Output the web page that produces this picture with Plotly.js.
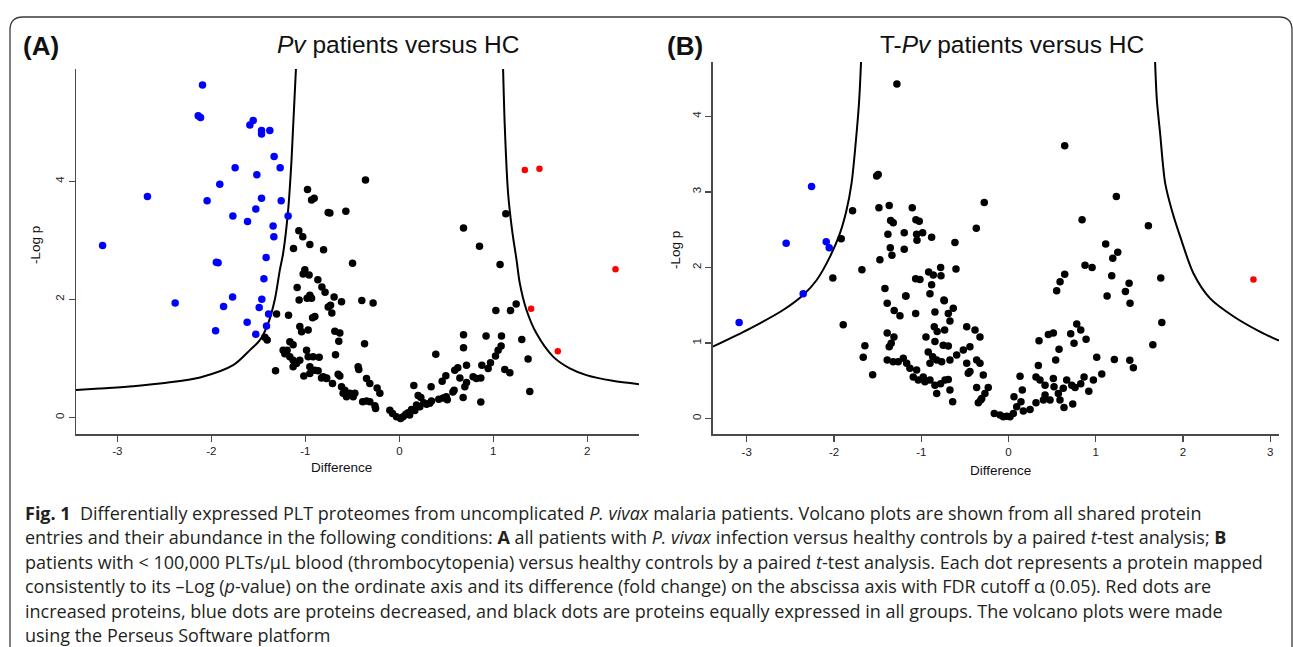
<!DOCTYPE html>
<html><head><meta charset="utf-8">
<script src="https://cdn.plot.ly/plotly-3.0.1.min.js"></script>
<style>html,body{margin:0;padding:0;background:#fff}#chart{width:1293px;height:647px}</style>
</head><body><div id="chart"></div>
<script>
// ---------- Panel A data (Pv patients versus HC) ----------
const aBlackX = [-0.977,-0.934,-0.906,-0.757,-1.069,-1.027,-0.952,-1.126,-0.806,
 -0.36,-0.739,-0.569,1.133,0.683,0.853,
 -0.498,1.072,-0.694,-0.732,-0.718,-0.615,-0.399,-0.279,1.243,1.183,1.027,-0.686,-0.633,-0.644,-0.37,-0.679,1.303,0.683,0.923,1.087,0.683,1.083,1.051,1.023,1.37,0.388,0.97,0.878,0.715,0.622,0.59,0.945,1.122,1.176,1.388,0.867,0.495,0.456,0.644,0.715,0.785,0.82,0.867,0.697,0.583,0.679,0.338,0.154,0.2,0.229,0.26,0.29,0.324,0.342,0.42,0.466,0.50,0.51,0.57,0.183,0.13,0.094,0.069,0.11,0.165,0.218,-0.101,-0.072,-0.03,0.013,0.04,-0.207,-0.236,-0.26,-0.253,-0.314,-0.349,-0.314,-0.349,-0.39,-0.438,-0.431,-0.81,-0.774,-0.651,-0.633,-0.711,-0.615,-0.58,-0.598,-0.562,-0.527,-0.491,-0.473,
 -1.306,-1.179,-1.431,-1.406,-1.317,-1.087,-1.023,-0.96,-1.066,-0.981,-0.952,-0.934,-0.923,-0.899,-1.059,-1.04,-0.97,-0.757,-1.165,-1.13,-1.194,-1.236,-1.218,-1.165,-1.13,-1.094,-1.13,-1.059,-0.987,-0.97,-0.917,-0.853,-0.952,-0.899,-0.864,-0.952,-1.016,-0.828,-0.774,
 -0.867,-0.824,-0.79,-1.005];
const aBlackY = [3.86,3.68,3.71,3.47,3.16,3.06,2.93,2.86,2.84,
 4.02,3.46,3.49,3.45,3.21,2.90,
 2.61,2.59,2.04,1.90,1.77,1.96,1.98,1.94,1.92,1.81,1.81,1.46,1.43,1.29,1.25,1.06,1.32,1.40,1.38,1.38,1.18,1.21,1.14,1.04,0.99,1.07,0.925,0.886,0.886,0.84,0.80,0.83,0.81,0.756,0.44,0.26,0.705,0.615,0.67,0.59,0.69,0.66,0.67,0.52,0.46,0.34,0.52,0.54,0.37,0.34,0.25,0.225,0.24,0.28,0.31,0.33,0.35,0.30,0.43,0.21,0.135,0.08,0.056,0.04,0.12,0.18,0.124,0.068,0.01,-0.017,0.01,0.41,0.50,0.197,0.15,0.576,0.66,0.265,0.28,0.265,0.858,0.81,0.69,0.67,0.73,0.70,0.576,0.52,0.46,0.41,0.35,0.41,0.35,0.41,
 1.75,1.73,1.36,1.31,0.79,2.20,2.43,2.41,1.99,2.02,2.07,2.02,1.69,1.71,1.54,1.45,1.48,1.87,1.28,1.23,1.14,1.14,1.08,1.03,0.97,0.915,0.858,0.97,1.14,1.03,1.03,1.02,0.858,0.80,0.79,0.746,0.70,0.67,0.66,
 2.33,2.21,2.12,2.50];
const aBlueX = [-2.094,-2.14,-2.115,-1.59,-1.555,-1.466,-1.466,-1.378,-1.332,-1.747,-1.268,-1.516,-1.91,-2.68,-2.045,-1.466,-1.257,-1.527,-1.771,-1.183,-1.615,-1.343,-1.335,-3.157,-1.928,-1.947,-1.417,-1.441,-1.774,-2.385,-1.463,-1.87,-1.491,-1.391,-1.619,-1.413,-1.955,-1.527];
const aBlueY = [5.63,5.11,5.08,4.95,5.03,4.86,4.80,4.86,4.42,4.23,4.23,4.11,3.95,3.74,3.67,3.71,3.67,3.53,3.41,3.41,3.32,3.24,3.06,2.91,2.62,2.63,2.71,2.35,2.04,1.94,2.00,1.88,1.86,1.75,1.61,1.55,1.47,1.41];
const aRedX = [1.335,1.491,2.30,1.402,1.686];
const aRedY = [4.19,4.21,2.51,1.84,1.12];
const aLeftCurveX = [-3.44,-3.19,-2.83,-2.477,-2.12,-1.768,-1.59,-1.484,-1.396,-1.324,-1.271,-1.236,-1.183,-1.147,-1.10];
const aLeftCurveY = [0.463,0.49,0.53,0.587,0.678,0.886,1.14,1.31,1.59,2.0,2.5,2.78,3.51,4.36,5.9];
const aRightCurveX = [1.104,1.122,1.157,1.204,1.247,1.282,1.353,1.46,1.636,1.814,1.99,2.27,2.55];
const aRightCurveY = [5.9,4.93,3.80,3.12,2.67,2.27,1.82,1.42,1.03,0.83,0.717,0.62,0.564];
const aXTicks = [-3,-2,-1,0,1,2];
const aYTicks = [0,2,4];

// ---------- Panel B data (T-Pv patients versus HC) ----------
const bBlackX = [-1.279,
 -1.511,-1.493,-1.787,-1.917,-2.013,-1.68,-1.485,-1.367,-1.103,-1.061,-1.023,-1.351,-1.321,-1.382,-1.195,-1.053,-0.984,-1.049,-0.881,-0.614,-0.369,-1.355,-1.336,-1.195,-1.474,-0.915,-0.862,-0.778,-0.774,-0.602,-1.064,-1.015,-0.881,-1.416,-1.175,-0.90,-0.74,
 0.644,-0.278,1.236,0.843,1.603,1.114,1.252,1.195,0.877,0.958,0.644,0.591,0.552,1.183,1.382,1.34,1.745,1.13,
 1.393,1.757,1.654,1.011,1.213,1.39,1.431,0.782,0.828,0.889,0.713,0.751,0.457,0.514,0.579,0.541,0.35,0.342,0.315,0.361,0.419,0.514,0.522,0.571,0.628,0.667,0.725,0.763,0.828,0.866,0.973,1.069,0.92,0.736,0.636,0.59,0.476,0.419,0.40,0.315,0.247,0.17,0.132,0.158,0.143,0.094,0.063,0.055,0.017,-0.021,-0.06,-0.097,-0.163,-0.479,-0.384,-0.327,-0.518,-0.442,-0.479,-0.461,-0.327,-0.289,-0.365,-0.232,-0.27,-0.307,-0.346,-0.319,
 -1.179,-1.39,-1.31,-1.244,-1.064,-0.843,-0.736,-0.633,-0.69,-0.671,-1.894,-0.851,-0.817,-0.732,-1.39,-1.313,-1.367,-1.344,-0.946,-0.843,-0.748,-0.69,-1.646,-1.665,-1.557,
 -1.39,-1.321,-1.264,-1.206,-1.167,-1.13,-1.053,-1.092,-1.034,-0.977,-0.958,-0.90,-0.843,-0.823,-0.778,-0.728,-0.69,-0.671,-0.64,-0.92,-0.869,-0.90,-0.823,-0.766,-0.671,-0.594,-0.442,-0.365];
const bBlackY = [4.43,
 3.21,3.23,2.75,2.38,1.86,1.97,2.79,2.82,2.79,2.63,2.61,2.62,2.59,2.44,2.46,2.44,2.46,2.36,2.40,2.33,2.52,2.26,2.16,2.24,2.10,1.94,1.90,2.00,1.89,1.98,1.85,1.84,1.77,1.72,1.62,1.65,1.57,
 3.61,2.86,2.94,2.63,2.55,2.31,2.20,2.12,2.03,2.00,1.91,1.81,1.69,1.89,1.79,1.68,1.86,1.62,
 1.525,1.27,0.976,0.81,0.78,0.77,0.67,1.25,1.17,1.05,1.12,0.995,1.11,1.13,0.915,0.773,1.03,0.70,0.55,0.508,0.44,0.53,0.42,0.33,0.40,0.508,0.44,0.41,0.46,0.55,0.508,0.59,0.36,0.19,0.146,0.243,0.243,0.31,0.243,0.207,0.12,0.10,0.56,0.375,0.22,0.154,0.286,0.066,0.021,0.03,0.021,0.044,0.066,1.215,1.17,1.08,0.906,0.95,0.73,0.60,0.73,0.574,0.41,0.41,0.33,0.265,0.207,0.243,
 1.62,1.525,1.43,1.36,1.39,1.41,1.56,1.46,1.39,1.29,1.24,1.215,1.15,1.17,1.13,1.08,0.95,0.995,1.08,1.02,0.97,0.96,0.963,0.81,0.58,
 0.773,0.75,0.75,0.796,0.73,0.663,0.64,0.55,0.508,0.55,0.485,0.508,0.44,0.33,0.46,0.508,0.517,0.375,0.22,0.88,0.817,0.73,0.773,0.75,0.773,0.84,0.62,0.773];
const bBlueX = [-2.257,-2.548,-2.089,-2.055,-2.353,-3.087];
const bBlueY = [3.07,2.32,2.34,2.26,1.65,1.27];
const bRedX = [2.807];
const bRedY = [1.84];
const bLeftCurveX = [-3.39,-2.964,-2.583,-2.353,-2.2,-2.047,-1.932,-1.856,-1.798,-1.741,-1.711,-1.69];
const bLeftCurveY = [0.95,1.19,1.436,1.635,1.83,2.14,2.45,2.76,3.12,3.78,4.22,4.72];
const bRightCurveX = [1.68,1.70,1.737,1.795,1.871,1.967,2.12,2.31,2.58,2.88,3.10];
const bRightCurveY = [4.72,4.22,3.78,3.12,2.76,2.41,1.92,1.59,1.35,1.15,1.03];
const bXTicks = [-3,-2,-1,0,1,2,3];
const bYTicks = [0,1,2,3,4];

// ---------- Text ----------
const panelLabels = ['(A)', '(B)'];
const panelTitles = ['<i>Pv</i> patients versus HC', 'T-<i>Pv</i> patients versus HC'];
const yTitle = '-Log p';
const xTitle = 'Difference';
const captionLines = [
 '<b>Fig. 1</b>  Differentially expressed PLT proteomes from uncomplicated <i>P. vivax</i> malaria patients. Volcano plots are shown from all shared protein',
 'entries and their abundance in the following conditions: <b>A</b> all patients with <i>P. vivax</i> infection versus healthy controls by a paired <i>t</i>-test analysis; <b>B</b>',
 'patients with &lt; 100,000 PLTs/μL blood (thrombocytopenia) versus healthy controls by a paired <i>t</i>-test analysis. Each dot represents a protein mapped',
 'consistently to its –Log (<i>p</i>-value) on the ordinate axis and its difference (fold change) on the abscissa axis with FDR cutoff α (0.05). Red dots are',
 'increased proteins, blue dots are proteins decreased, and black dots are proteins equally expressed in all groups. The volcano plots were made',
 'using the Perseus Software platform'
];

// ---------- Build ----------
const W = 1293, H = 647;
const px = v => v / W, py = v => 1 - v / H;
const AR = 'Arial, "Liberation Sans", sans-serif';

function pts(x, y, color, xa, ya, size) {
  return {x, y, xaxis: xa, yaxis: ya, type: 'scatter', mode: 'markers',
    marker: {color, size, line: {width: 0}}, hoverinfo: 'x+y'};
}
function curve(x, y, xa, ya) {
  return {x, y, xaxis: xa, yaxis: ya, type: 'scatter', mode: 'lines',
    line: {color: '#000', width: 2, shape: 'spline', smoothing: 0.8}, hoverinfo: 'skip'};
}
const traces = [
  curve(aLeftCurveX, aLeftCurveY, 'x', 'y'),
  curve(aRightCurveX, aRightCurveY, 'x', 'y'),
  pts(aBlackX, aBlackY, '#000', 'x', 'y', 7.5),
  pts(aBlueX, aBlueY, '#0000ff', 'x', 'y', 7.5),
  pts(aRedX, aRedY, '#ff0000', 'x', 'y', 6.5),
  curve(bLeftCurveX, bLeftCurveY, 'x2', 'y2'),
  curve(bRightCurveX, bRightCurveY, 'x2', 'y2'),
  pts(bBlackX, bBlackY, '#000', 'x2', 'y2', 7.5),
  pts(bBlueX, bBlueY, '#0000ff', 'x2', 'y2', 7.5),
  pts(bRedX, bRedY, '#ff0000', 'x2', 'y2', 6.5)
];

function axisCommon(tickvals, extra) {
  return Object.assign({
    tickmode: 'array', tickvals, ticktext: tickvals.map(String),
    showline: true, linecolor: '#4a4a4a', linewidth: 1.5,
    ticks: 'outside', ticklen: 6, tickwidth: 1.3, tickcolor: '#4a4a4a',
    showgrid: false, zeroline: false, fixedrange: true,
    tickfont: {family: AR, size: 11.5, color: '#222'}
  }, extra);
}

const annotations = [];
function ann(text, x, y, opts) {
  annotations.push(Object.assign({text, x: px(x), y: py(y), xref: 'paper', yref: 'paper',
    showarrow: false, xanchor: 'center', yanchor: 'middle'}, opts));
}
ann('<b>' + panelLabels[0] + '</b>', 21, 46, {xanchor: 'left', font: {family: AR, size: 26, color: '#111'}});
ann('<b>' + panelLabels[1] + '</b>', 665, 46, {xanchor: 'left', font: {family: AR, size: 26, color: '#111'}});
ann(panelTitles[0], 398, 45, {font: {family: AR, size: 24.5, color: '#111'}});
ann(panelTitles[1], 1012, 45, {font: {family: AR, size: 24.5, color: '#111'}});
ann(yTitle, 35, 245, {textangle: -90, font: {family: AR, size: 13.5, color: '#111'}});
ann(yTitle, 675, 250, {textangle: -90, font: {family: AR, size: 13.5, color: '#111'}});
ann(xTitle, 341, 467, {font: {family: AR, size: 13.5, color: '#111'}});
ann(xTitle, 1000, 470, {font: {family: AR, size: 13.5, color: '#111'}});
const capY0 = 513, capDy = 24.4;
captionLines.forEach((t, i) => ann(t, 23, capY0 + i * capDy,
  {xanchor: 'left', font: {family: '"Open Sans", sans-serif', size: 18, color: '#231f20'}}));

const r = 13;
const borderPath = 'M ' + px(10) + ' ' + py(H) + ' L ' + px(10) + ' ' + py(17 + r) +
  ' Q ' + px(10) + ' ' + py(17) + ' ' + px(10 + r) + ' ' + py(17) +
  ' L ' + px(1292 - r) + ' ' + py(17) +
  ' Q ' + px(1292) + ' ' + py(17) + ' ' + px(1292) + ' ' + py(17 + r) +
  ' L ' + px(1292) + ' ' + py(H);

const layout = {
  width: W, height: H, margin: {l: 0, r: 0, t: 0, b: 0},
  paper_bgcolor: '#fff', plot_bgcolor: '#fff', showlegend: false,
  xaxis: axisCommon(aXTicks, {domain: [px(76), px(639)], range: [-3.44, 2.55], anchor: 'y'}),
  yaxis: axisCommon(aYTicks, {domain: [py(434), py(69)], range: [-0.28, 5.9], anchor: 'x', tickangle: -90}),
  xaxis2: axisCommon(bXTicks, {domain: [px(712.7), px(1279)], range: [-3.39, 3.10], anchor: 'y2'}),
  yaxis2: axisCommon(bYTicks, {domain: [py(434.3), py(62)], range: [-0.21, 4.72], anchor: 'x2', tickangle: -90}),
  annotations,
  shapes: [{type: 'path', xref: 'paper', yref: 'paper', path: borderPath,
    line: {color: '#3a3a3a', width: 1.3}}]
};
Plotly.newPlot('chart', traces, layout, {staticPlot: true, displayModeBar: false});
</script></body></html>
